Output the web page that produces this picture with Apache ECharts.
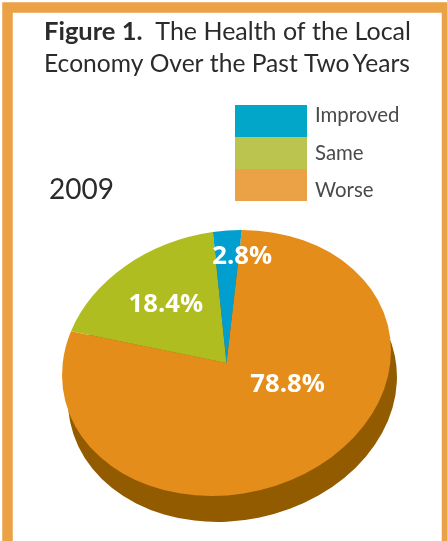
<!DOCTYPE html>
<html>
<head>
<meta charset="utf-8">
<style>html,body{margin:0;padding:0;background:#fff}#chart{width:447px;height:541px}</style>
<script src="https://cdn.jsdelivr.net/npm/echarts@6/dist/echarts.min.js"></script>
</head>
<body>
<div id="chart"></div>
<script>
// Survey shares, in percent, in clockwise drawing order around the pie.
const categories = ['Worse', 'Same', 'Improved'];
const shares = [78.8, 18.4, 2.8];
const sliceColors = ['#E58D1A', '#AFBD21', '#009FCF'];
const swatchColors = ['#EBA146', '#BBC44E', '#02A6C8'];
const legendOrder = ['Improved', 'Same', 'Worse'];
const yearLabel = '2009';

// Tilted-disc geometry: a circle squashed and rotated about its centre.
const disc = { cx: 226.5, cy: 363, major: 165.7, minor: 131.4, tiltDeg: 11.5, depthX: 6, depthY: 26, firstEdgeDeg: 14.5 };
// Label anchors in disc polar terms: degrees clockwise from the top, fraction of radius.
const labelPolar = { Worse: [127, 0.42], Same: [-28.8, 0.6], Improved: [16, 0.8] };

const total = shares.reduce((a, b) => a + b, 0);
const toRad = d => d * Math.PI / 180;

function discTransform(dx, dy) {
  return {
    x: disc.cx + dx,
    y: disc.cy + dy,
    rotation: toRad(disc.tiltDeg),
    scaleX: 1,
    scaleY: disc.minor / disc.major
  };
}

// Screen position of a polar point on the tilted disc.
function discPoint(clockDeg, frac) {
  const a = toRad(clockDeg);
  const u = Math.sin(a) * frac * disc.major;
  const v = -Math.cos(a) * frac * disc.minor;
  const t = toRad(disc.tiltDeg);
  return [disc.cx + u * Math.cos(t) + v * Math.sin(t), disc.cy - u * Math.sin(t) + v * Math.cos(t)];
}

function sliceSeries(index) {
  const before = shares.slice(0, index).reduce((a, b) => a + b, 0);
  const startClock = disc.firstEdgeDeg + before / total * 360;
  const endClock = startClock + shares[index] / total * 360;
  const name = categories[index];
  return {
    type: 'custom',
    name: name,
    coordinateSystem: 'none',
    silent: true,
    itemStyle: { color: swatchColors[index] },
    data: [shares[index]],
    renderItem: function (params, api) {
      const value = api.value(0);
      const pos = discPoint(labelPolar[name][0], labelPolar[name][1]);
      return {
        type: 'group',
        children: [
          Object.assign({
            type: 'sector',
            shape: {
              cx: 0, cy: 0, r0: 0, r: disc.major,
              startAngle: toRad(startClock - 90),
              endAngle: toRad(endClock - 90),
              clockwise: true
            },
            style: { fill: sliceColors[index] }
          }, discTransform(0, 0)),
          {
            type: 'text',
            x: pos[0], y: pos[1], z2: 10,
            style: {
              text: value.toFixed(1) + '%',
              fill: '#fff',
              font: 'bold 25.7px "Open Sans", "Noto Sans", sans-serif',
              align: 'center', verticalAlign: 'middle'
            }
          }
        ]
      };
    }
  };
}

// The disc's side wall: the same ellipse pushed down behind the slices.
const wallSeries = {
  type: 'custom',
  name: 'wall',
  coordinateSystem: 'none',
  silent: true,
  data: [total],
  renderItem: function () {
    return Object.assign({
      type: 'circle',
      shape: { cx: 0, cy: 0, r: disc.major },
      style: { fill: '#935B00' }
    }, discTransform(disc.depthX, disc.depthY));
  }
};

const chart = echarts.init(document.getElementById('chart'), null, { renderer: 'canvas' });
chart.setOption({
  animation: false,
  backgroundColor: '#fff',
  title: {
    left: 44, top: 16, padding: 0,
    text: '{b|Figure 1.}{n|  The Health of the Local}\n{m|Economy Over the Past Two\u2009Years}',
    textStyle: {
      fontFamily: 'Lato', fontSize: 25, fontWeight: 'normal', color: '#2B2A2C', lineHeight: 32,
      rich: {
        b: { fontFamily: 'Lato', fontSize: 25.5, fontWeight: 'bold', color: '#2B2A2C', lineHeight: 32 },
        n: { fontFamily: 'Lato', fontSize: 25, color: '#2B2A2C', lineHeight: 32 },
        m: { fontFamily: 'Lato', fontSize: 24.6, color: '#2B2A2C', lineHeight: 32 }
      }
    }
  },
  legend: {
    orient: 'vertical',
    left: 235, top: 105, padding: 0,
    itemWidth: 72, itemHeight: 32, itemGap: 0,
    icon: 'rect',
    selectedMode: false,
    formatter: function (n) { return '{' + n + '|' + n + '}'; },
    textStyle: {
      fontFamily: 'Lato', fontSize: 20, color: '#4A494B',
      rich: {
        Improved: { fontFamily: 'Lato', fontSize: 20.4, color: '#4A494B', padding: [0, 0, 12, 3] },
        Same: { fontFamily: 'Lato', fontSize: 20.4, color: '#4A494B', padding: [0, 0, 0, 3] },
        Worse: { fontFamily: 'Lato', fontSize: 20.4, color: '#4A494B', padding: [10, 0, 0, 3] }
      }
    },
    data: legendOrder
  },
  graphic: [
    { type: 'rect', silent: true, z: -1,
      shape: { x: 7.5, y: 7.5, width: 439.5, height: 560 },
      style: { fill: 'none', stroke: '#EBA146', lineWidth: 10.5 } },
    { type: 'text', left: 49, top: 176, silent: true,
      style: { text: yearLabel, font: '28px Lato', fill: '#2B2A2C' } }
  ],
  series: [wallSeries].concat(categories.map(function (c, i) { return sliceSeries(i); }))
});
</script>
</body>
</html>
